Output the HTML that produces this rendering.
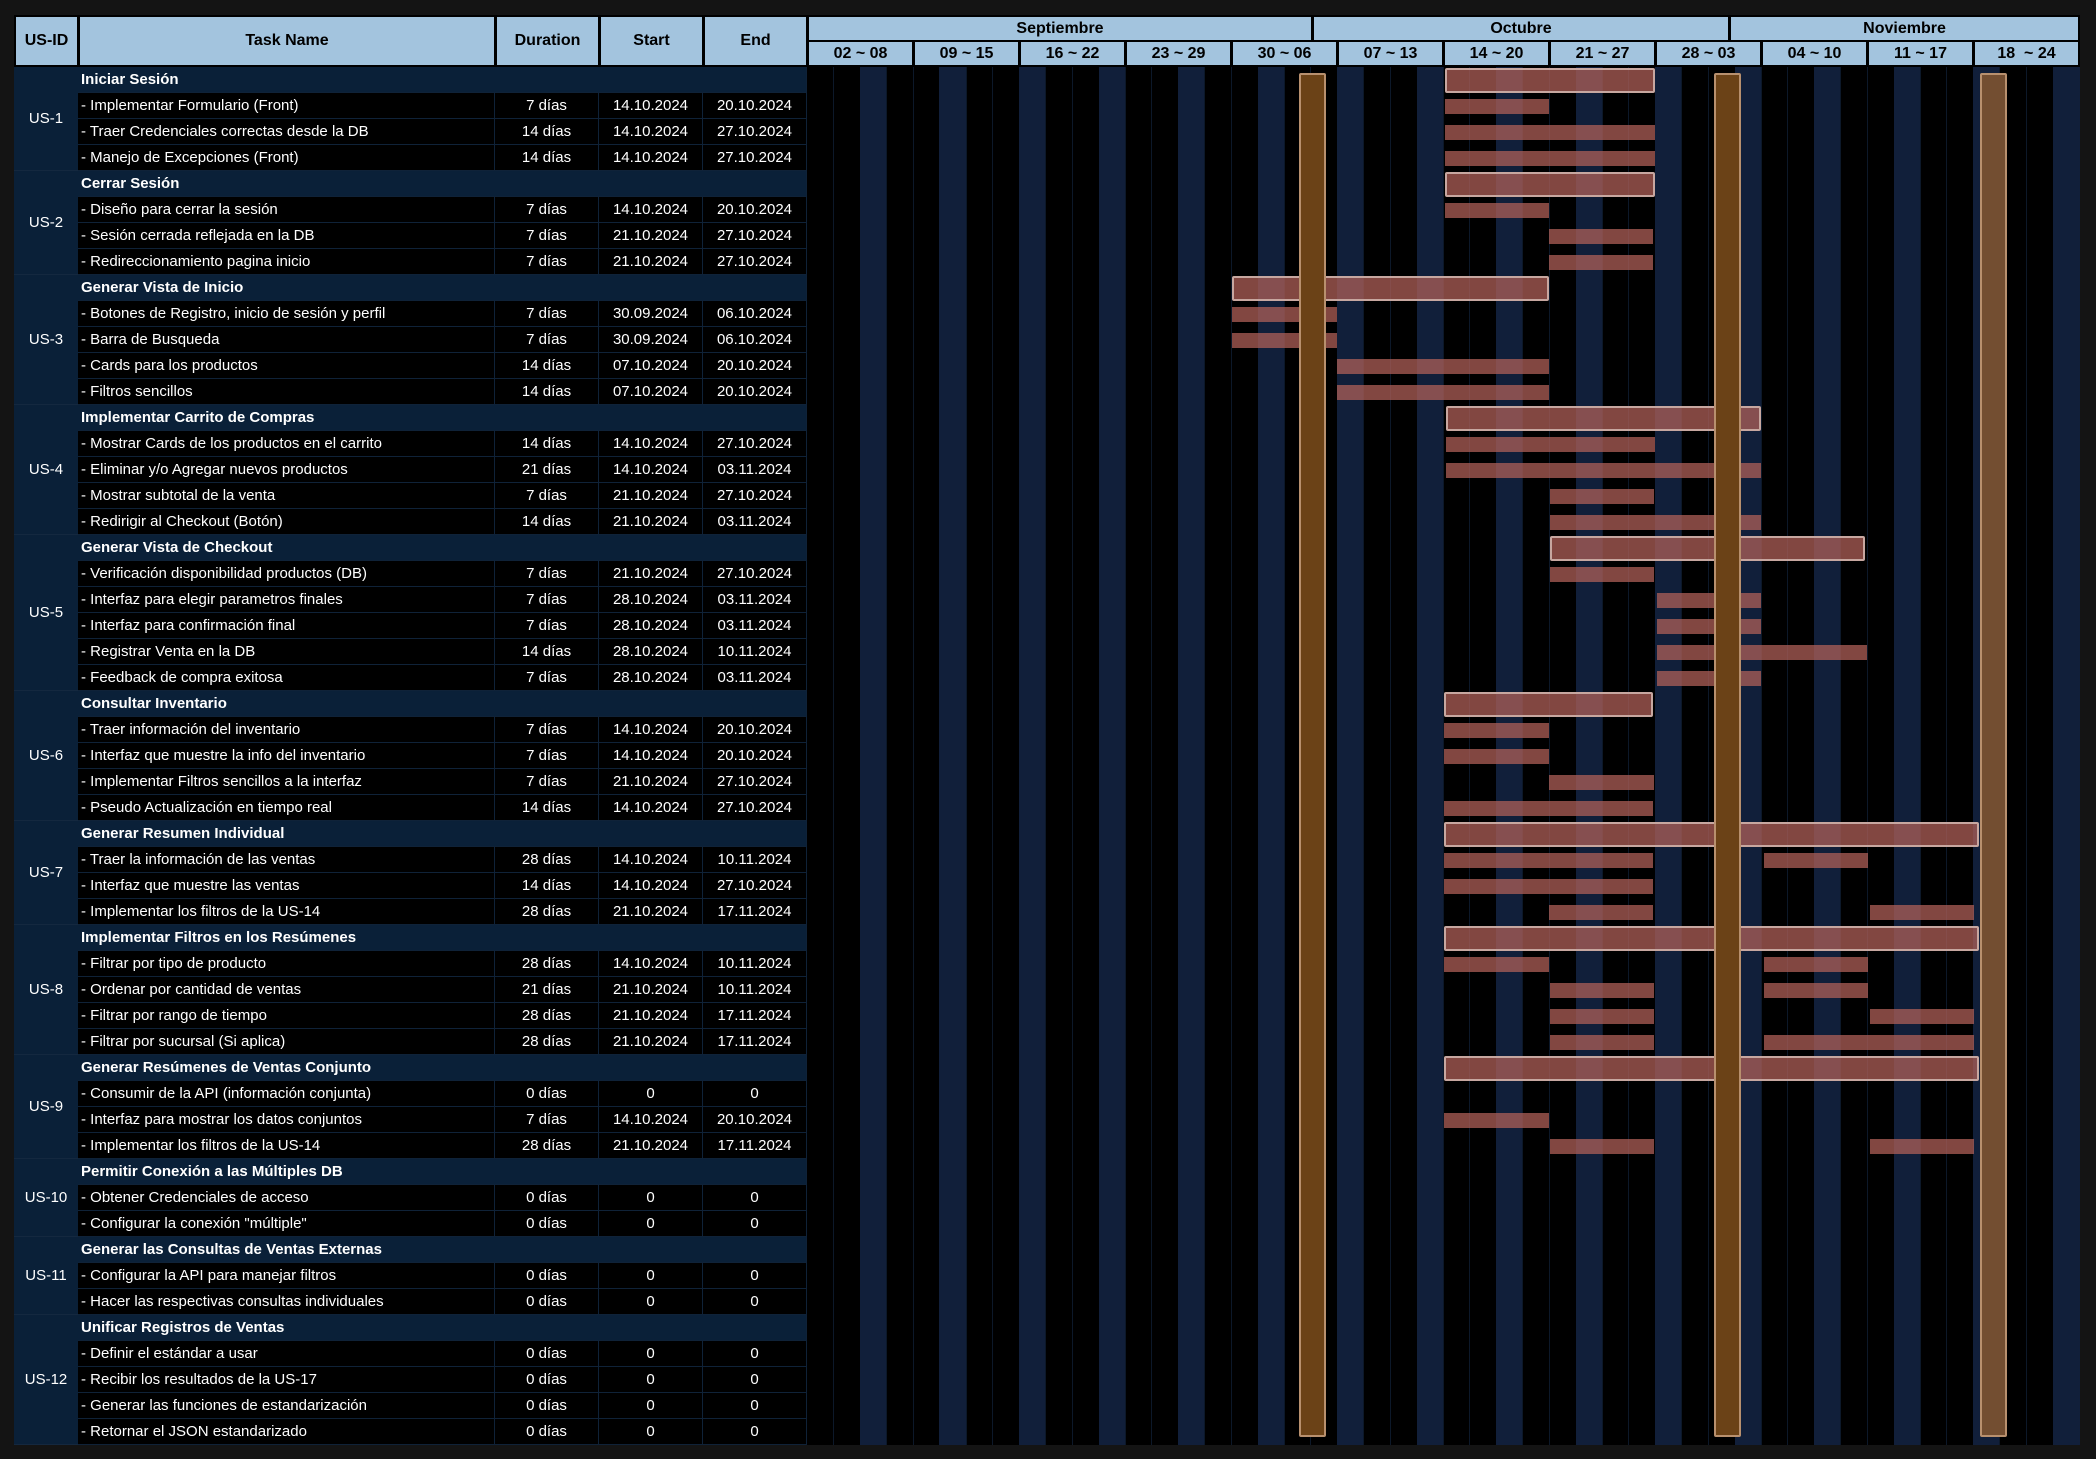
<!DOCTYPE html>
<html><head><meta charset="utf-8"><style>
*{box-sizing:border-box;margin:0;padding:0}
body{width:2096px;height:1459px;background:#141414;position:relative;overflow:hidden;font-family:"Liberation Sans",Arial,sans-serif;color:#fff}
.a{position:absolute}
.hd{position:absolute;background:#a3c4de;color:#000;font-weight:bold;font-size:16px;display:flex;align-items:center;justify-content:center;border:2px solid #000}
.r{position:absolute;left:78px;width:729px;height:26px;display:flex;font-size:15px}
.r div{height:26px;line-height:25px;border-right:1px solid #0f2238;border-bottom:1px solid #0f2238;white-space:nowrap;overflow:hidden}
.t{width:417px;padding-left:3px}
.d,.s,.e{width:104px;text-align:center}
.g{background:#0a2038;font-weight:bold}
.g div{width:729px;padding-left:3px}
.k{background:#000}
.id{position:absolute;left:14px;width:64px;background:#0a2038;font-size:15px;display:flex;align-items:center;justify-content:center;border-bottom:1px solid #14283f}
.st{position:absolute;top:67px;height:1378px;width:27px;background:#111f3a}
.ln{position:absolute;top:67px;height:1378px;width:1px;background:#0c1829}
.b{position:absolute;height:15px;background:rgba(175,96,88,.74)}
.S{position:absolute;height:25px;background:rgba(175,96,88,.74);border:2px solid #c7a7a0;border-radius:2px}
.o{position:absolute;top:73px;height:1364px;width:27px;background:#6b4217;border:2px solid #b8906e;border-radius:2px}
</style></head><body>
<div class="a" style="left:14px;top:15px;width:2066px;height:52px;background:#000"></div>
<div class="hd" style="left:14px;top:15px;width:65px;height:52px">US-ID</div>
<div class="hd" style="left:78px;top:15px;width:418px;height:52px">Task Name</div>
<div class="hd" style="left:495px;top:15px;width:105px;height:52px">Duration</div>
<div class="hd" style="left:599px;top:15px;width:105px;height:52px">Start</div>
<div class="hd" style="left:703px;top:15px;width:105px;height:52px">End</div>
<div class="hd" style="left:807px;top:15px;width:506px;height:27px">Septiembre</div>
<div class="hd" style="left:1312px;top:15px;width:418px;height:27px">Octubre</div>
<div class="hd" style="left:1729px;top:15px;width:351px;height:27px">Noviembre</div>
<div class="hd" style="left:807px;top:40px;width:107px;height:27px">02 ~ 08</div>
<div class="hd" style="left:913px;top:40px;width:107px;height:27px">09 ~ 15</div>
<div class="hd" style="left:1019px;top:40px;width:107px;height:27px">16 ~ 22</div>
<div class="hd" style="left:1125px;top:40px;width:107px;height:27px">23 ~ 29</div>
<div class="hd" style="left:1231px;top:40px;width:107px;height:27px">30 ~ 06</div>
<div class="hd" style="left:1337px;top:40px;width:107px;height:27px">07 ~ 13</div>
<div class="hd" style="left:1443px;top:40px;width:107px;height:27px">14 ~ 20</div>
<div class="hd" style="left:1549px;top:40px;width:107px;height:27px">21 ~ 27</div>
<div class="hd" style="left:1655px;top:40px;width:107px;height:27px">28 ~ 03</div>
<div class="hd" style="left:1761px;top:40px;width:107px;height:27px">04 ~ 10</div>
<div class="hd" style="left:1867px;top:40px;width:107px;height:27px">11 ~ 17</div>
<div class="hd" style="left:1973px;top:40px;width:107px;height:27px">18 &nbsp;~ 24</div>

<!-- gantt bg -->
<div class="a" style="left:807px;top:67px;width:1273px;height:1378px;background:#000"></div>
<div class="st" style="left:860px"></div><div class="st" style="left:939px"></div><div class="st" style="left:1019px"></div><div class="st" style="left:1099px"></div><div class="st" style="left:1178px"></div><div class="st" style="left:1258px"></div><div class="st" style="left:1337px"></div><div class="st" style="left:1417px"></div><div class="st" style="left:1496px"></div><div class="st" style="left:1576px"></div><div class="st" style="left:1655px"></div><div class="st" style="left:1735px"></div><div class="st" style="left:1814px"></div><div class="st" style="left:1894px"></div><div class="st" style="left:1973px"></div><div class="st" style="left:2053px"></div>
<div class="ln" style="left:833px"></div><div class="ln" style="left:886px"></div><div class="ln" style="left:913px"></div><div class="ln" style="left:966px"></div><div class="ln" style="left:992px"></div><div class="ln" style="left:1045px"></div><div class="ln" style="left:1072px"></div><div class="ln" style="left:1125px"></div><div class="ln" style="left:1151px"></div><div class="ln" style="left:1204px"></div><div class="ln" style="left:1231px"></div><div class="ln" style="left:1284px"></div><div class="ln" style="left:1310px"></div><div class="ln" style="left:1363px"></div><div class="ln" style="left:1390px"></div><div class="ln" style="left:1443px"></div><div class="ln" style="left:1469px"></div><div class="ln" style="left:1522px"></div><div class="ln" style="left:1549px"></div><div class="ln" style="left:1602px"></div><div class="ln" style="left:1628px"></div><div class="ln" style="left:1681px"></div><div class="ln" style="left:1708px"></div><div class="ln" style="left:1761px"></div><div class="ln" style="left:1787px"></div><div class="ln" style="left:1840px"></div><div class="ln" style="left:1867px"></div><div class="ln" style="left:1920px"></div><div class="ln" style="left:1946px"></div><div class="ln" style="left:1999px"></div><div class="ln" style="left:2026px"></div>

<!-- US-ID cells -->
<div class="id" style="top:67px;height:104px">US-1</div>
<div class="id" style="top:171px;height:104px">US-2</div>
<div class="id" style="top:275px;height:130px">US-3</div>
<div class="id" style="top:405px;height:130px">US-4</div>
<div class="id" style="top:535px;height:156px">US-5</div>
<div class="id" style="top:691px;height:130px">US-6</div>
<div class="id" style="top:821px;height:104px">US-7</div>
<div class="id" style="top:925px;height:130px">US-8</div>
<div class="id" style="top:1055px;height:104px">US-9</div>
<div class="id" style="top:1159px;height:78px">US-10</div>
<div class="id" style="top:1237px;height:78px">US-11</div>
<div class="id" style="top:1315px;height:130px">US-12</div>

<!-- rows -->
<div class="r g" style="top:67px"><div>Iniciar Sesión</div></div>
<div class="r k" style="top:93px"><div class="t">- Implementar Formulario (Front)</div><div class="d">7 días</div><div class="s">14.10.2024</div><div class="e">20.10.2024</div></div>
<div class="r k" style="top:119px"><div class="t">- Traer Credenciales correctas desde la DB</div><div class="d">14 días</div><div class="s">14.10.2024</div><div class="e">27.10.2024</div></div>
<div class="r k" style="top:145px"><div class="t">- Manejo de Excepciones (Front)</div><div class="d">14 días</div><div class="s">14.10.2024</div><div class="e">27.10.2024</div></div>
<div class="r g" style="top:171px"><div>Cerrar Sesión</div></div>
<div class="r k" style="top:197px"><div class="t">- Diseño para cerrar la sesión</div><div class="d">7 días</div><div class="s">14.10.2024</div><div class="e">20.10.2024</div></div>
<div class="r k" style="top:223px"><div class="t">- Sesión cerrada reflejada en la DB</div><div class="d">7 días</div><div class="s">21.10.2024</div><div class="e">27.10.2024</div></div>
<div class="r k" style="top:249px"><div class="t">- Redireccionamiento pagina inicio</div><div class="d">7 días</div><div class="s">21.10.2024</div><div class="e">27.10.2024</div></div>
<div class="r g" style="top:275px"><div>Generar Vista de Inicio</div></div>
<div class="r k" style="top:301px"><div class="t">- Botones de Registro, inicio de sesión y perfil</div><div class="d">7 días</div><div class="s">30.09.2024</div><div class="e">06.10.2024</div></div>
<div class="r k" style="top:327px"><div class="t">- Barra de Busqueda</div><div class="d">7 días</div><div class="s">30.09.2024</div><div class="e">06.10.2024</div></div>
<div class="r k" style="top:353px"><div class="t">- Cards para los productos</div><div class="d">14 días</div><div class="s">07.10.2024</div><div class="e">20.10.2024</div></div>
<div class="r k" style="top:379px"><div class="t">- Filtros sencillos</div><div class="d">14 días</div><div class="s">07.10.2024</div><div class="e">20.10.2024</div></div>
<div class="r g" style="top:405px"><div>Implementar Carrito de Compras</div></div>
<div class="r k" style="top:431px"><div class="t">- Mostrar Cards de los productos en el carrito</div><div class="d">14 días</div><div class="s">14.10.2024</div><div class="e">27.10.2024</div></div>
<div class="r k" style="top:457px"><div class="t">- Eliminar y/o Agregar nuevos productos</div><div class="d">21 días</div><div class="s">14.10.2024</div><div class="e">03.11.2024</div></div>
<div class="r k" style="top:483px"><div class="t">- Mostrar subtotal de la venta</div><div class="d">7 días</div><div class="s">21.10.2024</div><div class="e">27.10.2024</div></div>
<div class="r k" style="top:509px"><div class="t">- Redirigir al Checkout (Botón)</div><div class="d">14 días</div><div class="s">21.10.2024</div><div class="e">03.11.2024</div></div>
<div class="r g" style="top:535px"><div>Generar Vista de Checkout</div></div>
<div class="r k" style="top:561px"><div class="t">- Verificación disponibilidad productos (DB)</div><div class="d">7 días</div><div class="s">21.10.2024</div><div class="e">27.10.2024</div></div>
<div class="r k" style="top:587px"><div class="t">- Interfaz para elegir parametros finales</div><div class="d">7 días</div><div class="s">28.10.2024</div><div class="e">03.11.2024</div></div>
<div class="r k" style="top:613px"><div class="t">- Interfaz para confirmación final</div><div class="d">7 días</div><div class="s">28.10.2024</div><div class="e">03.11.2024</div></div>
<div class="r k" style="top:639px"><div class="t">- Registrar Venta en la DB</div><div class="d">14 días</div><div class="s">28.10.2024</div><div class="e">10.11.2024</div></div>
<div class="r k" style="top:665px"><div class="t">- Feedback de compra exitosa</div><div class="d">7 días</div><div class="s">28.10.2024</div><div class="e">03.11.2024</div></div>
<div class="r g" style="top:691px"><div>Consultar Inventario</div></div>
<div class="r k" style="top:717px"><div class="t">- Traer información del inventario</div><div class="d">7 días</div><div class="s">14.10.2024</div><div class="e">20.10.2024</div></div>
<div class="r k" style="top:743px"><div class="t">- Interfaz que muestre la info del inventario</div><div class="d">7 días</div><div class="s">14.10.2024</div><div class="e">20.10.2024</div></div>
<div class="r k" style="top:769px"><div class="t">- Implementar Filtros sencillos a la interfaz</div><div class="d">7 días</div><div class="s">21.10.2024</div><div class="e">27.10.2024</div></div>
<div class="r k" style="top:795px"><div class="t">- Pseudo Actualización en tiempo real</div><div class="d">14 días</div><div class="s">14.10.2024</div><div class="e">27.10.2024</div></div>
<div class="r g" style="top:821px"><div>Generar Resumen Individual</div></div>
<div class="r k" style="top:847px"><div class="t">- Traer la información de las ventas</div><div class="d">28 días</div><div class="s">14.10.2024</div><div class="e">10.11.2024</div></div>
<div class="r k" style="top:873px"><div class="t">- Interfaz que muestre las ventas</div><div class="d">14 días</div><div class="s">14.10.2024</div><div class="e">27.10.2024</div></div>
<div class="r k" style="top:899px"><div class="t">- Implementar los filtros de la US-14</div><div class="d">28 días</div><div class="s">21.10.2024</div><div class="e">17.11.2024</div></div>
<div class="r g" style="top:925px"><div>Implementar Filtros en los Resúmenes</div></div>
<div class="r k" style="top:951px"><div class="t">- Filtrar por tipo de producto</div><div class="d">28 días</div><div class="s">14.10.2024</div><div class="e">10.11.2024</div></div>
<div class="r k" style="top:977px"><div class="t">- Ordenar por cantidad de ventas</div><div class="d">21 días</div><div class="s">21.10.2024</div><div class="e">10.11.2024</div></div>
<div class="r k" style="top:1003px"><div class="t">- Filtrar por rango de tiempo</div><div class="d">28 días</div><div class="s">21.10.2024</div><div class="e">17.11.2024</div></div>
<div class="r k" style="top:1029px"><div class="t">- Filtrar por sucursal (Si aplica)</div><div class="d">28 días</div><div class="s">21.10.2024</div><div class="e">17.11.2024</div></div>
<div class="r g" style="top:1055px"><div>Generar Resúmenes de Ventas Conjunto</div></div>
<div class="r k" style="top:1081px"><div class="t">- Consumir de la API (información conjunta)</div><div class="d">0 días</div><div class="s">0</div><div class="e">0</div></div>
<div class="r k" style="top:1107px"><div class="t">- Interfaz para mostrar los datos conjuntos</div><div class="d">7 días</div><div class="s">14.10.2024</div><div class="e">20.10.2024</div></div>
<div class="r k" style="top:1133px"><div class="t">- Implementar los filtros de la US-14</div><div class="d">28 días</div><div class="s">21.10.2024</div><div class="e">17.11.2024</div></div>
<div class="r g" style="top:1159px"><div>Permitir Conexión a las Múltiples DB</div></div>
<div class="r k" style="top:1185px"><div class="t">- Obtener Credenciales de acceso</div><div class="d">0 días</div><div class="s">0</div><div class="e">0</div></div>
<div class="r k" style="top:1211px"><div class="t">- Configurar la conexión "múltiple"</div><div class="d">0 días</div><div class="s">0</div><div class="e">0</div></div>
<div class="r g" style="top:1237px"><div>Generar las Consultas de Ventas Externas</div></div>
<div class="r k" style="top:1263px"><div class="t">- Configurar la API para manejar filtros</div><div class="d">0 días</div><div class="s">0</div><div class="e">0</div></div>
<div class="r k" style="top:1289px"><div class="t">- Hacer las respectivas consultas individuales</div><div class="d">0 días</div><div class="s">0</div><div class="e">0</div></div>
<div class="r g" style="top:1315px"><div>Unificar Registros de Ventas</div></div>
<div class="r k" style="top:1341px"><div class="t">- Definir el estándar a usar</div><div class="d">0 días</div><div class="s">0</div><div class="e">0</div></div>
<div class="r k" style="top:1367px"><div class="t">- Recibir los resultados de la US-17</div><div class="d">0 días</div><div class="s">0</div><div class="e">0</div></div>
<div class="r k" style="top:1393px"><div class="t">- Generar las funciones de estandarización</div><div class="d">0 días</div><div class="s">0</div><div class="e">0</div></div>
<div class="r k" style="top:1419px"><div class="t">- Retornar el JSON estandarizado</div><div class="d">0 días</div><div class="s">0</div><div class="e">0</div></div>

<!-- bars -->
<div class="S" style="left:1445px;top:68px;width:210px"></div>
<div class="b" style="left:1445px;top:99px;width:104px"></div>
<div class="b" style="left:1445px;top:125px;width:210px"></div>
<div class="b" style="left:1445px;top:151px;width:210px"></div>
<div class="S" style="left:1445px;top:172px;width:210px"></div>
<div class="b" style="left:1445px;top:203px;width:104px"></div>
<div class="b" style="left:1549px;top:229px;width:104px"></div>
<div class="b" style="left:1549px;top:255px;width:104px"></div>
<div class="S" style="left:1232px;top:276px;width:317px"></div>
<div class="b" style="left:1232px;top:307px;width:105px"></div>
<div class="b" style="left:1232px;top:333px;width:105px"></div>
<div class="b" style="left:1337px;top:359px;width:212px"></div>
<div class="b" style="left:1337px;top:385px;width:212px"></div>
<div class="S" style="left:1446px;top:406px;width:315px"></div>
<div class="b" style="left:1446px;top:437px;width:209px"></div>
<div class="b" style="left:1446px;top:463px;width:315px"></div>
<div class="b" style="left:1550px;top:489px;width:104px"></div>
<div class="b" style="left:1550px;top:515px;width:211px"></div>
<div class="S" style="left:1550px;top:536px;width:315px"></div>
<div class="b" style="left:1550px;top:567px;width:104px"></div>
<div class="b" style="left:1657px;top:593px;width:104px"></div>
<div class="b" style="left:1657px;top:619px;width:104px"></div>
<div class="b" style="left:1657px;top:645px;width:210px"></div>
<div class="b" style="left:1657px;top:671px;width:104px"></div>
<div class="S" style="left:1444px;top:692px;width:209px"></div>
<div class="b" style="left:1444px;top:723px;width:105px"></div>
<div class="b" style="left:1444px;top:749px;width:105px"></div>
<div class="b" style="left:1549px;top:775px;width:105px"></div>
<div class="b" style="left:1444px;top:801px;width:209px"></div>
<div class="S" style="left:1444px;top:822px;width:535px"></div>
<div class="b" style="left:1444px;top:853px;width:209px"></div>
<div class="b" style="left:1764px;top:853px;width:104px"></div>
<div class="b" style="left:1444px;top:879px;width:209px"></div>
<div class="b" style="left:1549px;top:905px;width:104px"></div>
<div class="b" style="left:1870px;top:905px;width:104px"></div>
<div class="S" style="left:1444px;top:926px;width:535px"></div>
<div class="b" style="left:1444px;top:957px;width:105px"></div>
<div class="b" style="left:1764px;top:957px;width:104px"></div>
<div class="b" style="left:1550px;top:983px;width:104px"></div>
<div class="b" style="left:1764px;top:983px;width:104px"></div>
<div class="b" style="left:1550px;top:1009px;width:104px"></div>
<div class="b" style="left:1870px;top:1009px;width:104px"></div>
<div class="b" style="left:1550px;top:1035px;width:104px"></div>
<div class="b" style="left:1764px;top:1035px;width:210px"></div>
<div class="S" style="left:1444px;top:1056px;width:535px"></div>
<div class="b" style="left:1444px;top:1113px;width:105px"></div>
<div class="b" style="left:1550px;top:1139px;width:104px"></div>
<div class="b" style="left:1870px;top:1139px;width:104px"></div>

<!-- milestones -->
<div class="o" style="left:1299px"></div>
<div class="o" style="left:1714px"></div>
<div class="o" style="left:1980px;background:#734e31"></div>
</body></html>
